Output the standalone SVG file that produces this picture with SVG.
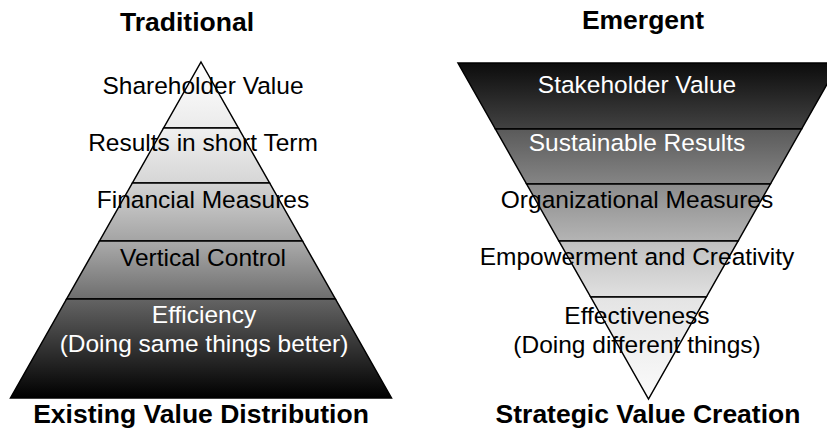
<svg xmlns="http://www.w3.org/2000/svg" width="827" height="438" viewBox="0 0 827 438">
<defs>
<linearGradient id="l1" x1="0" y1="0" x2="0" y2="1"><stop offset="0" stop-color="#ffffff"/><stop offset="1" stop-color="#ebebeb"/></linearGradient>
<linearGradient id="l2" x1="0" y1="0" x2="0" y2="1"><stop offset="0" stop-color="#f0f0f0"/><stop offset="1" stop-color="#d6d6d6"/></linearGradient>
<linearGradient id="l3" x1="0" y1="0" x2="0" y2="1"><stop offset="0" stop-color="#d4d4d4"/><stop offset="1" stop-color="#a4a4a4"/></linearGradient>
<linearGradient id="l4" x1="0" y1="0" x2="0" y2="1"><stop offset="0" stop-color="#ababab"/><stop offset="1" stop-color="#6e6e6e"/></linearGradient>
<linearGradient id="l5" x1="0" y1="0" x2="0" y2="1"><stop offset="0" stop-color="#646464"/><stop offset="1" stop-color="#000000"/></linearGradient>
<linearGradient id="r1" x1="0" y1="0" x2="0" y2="1"><stop offset="0" stop-color="#0c0c0c"/><stop offset="1" stop-color="#424242"/></linearGradient>
<linearGradient id="r2" x1="0" y1="0" x2="0" y2="1"><stop offset="0" stop-color="#5a5a5a"/><stop offset="1" stop-color="#858585"/></linearGradient>
<linearGradient id="r3" x1="0" y1="0" x2="0" y2="1"><stop offset="0" stop-color="#8c8c8c"/><stop offset="1" stop-color="#b4b4b4"/></linearGradient>
<linearGradient id="r4" x1="0" y1="0" x2="0" y2="1"><stop offset="0" stop-color="#c0c0c0"/><stop offset="1" stop-color="#e0e0e0"/></linearGradient>
<linearGradient id="r5" x1="0" y1="0" x2="0" y2="1"><stop offset="0" stop-color="#e4e4e4"/><stop offset="1" stop-color="#fbfbfb"/></linearGradient>
</defs>
<style>
.band{stroke:#000;stroke-width:1.5;stroke-linejoin:miter}
.t{font-family:"Liberation Sans",Arial,sans-serif;font-size:24.5px;text-anchor:middle;fill:#000}
.w{fill:#fff}
.h{font-family:"Liberation Sans",Arial,sans-serif;font-size:26.5px;font-weight:bold;text-anchor:middle;fill:#000}
</style>
<rect width="827" height="438" fill="#fff"/>
<g id="traditional">
<g id="t-band1"><polygon class="band" fill="url(#l1)" points="201,62 238.4,128 163.6,128"/><text class="t" x="203" y="94">Shareholder Value</text></g>
<g id="t-band2"><polygon class="band" fill="url(#l2)" points="163.6,128 238.4,128 269.6,183 132.4,183"/><text class="t" x="203" y="151">Results in short Term</text></g>
<g id="t-band3"><polygon class="band" fill="url(#l3)" points="132.4,183 269.6,183 302.5,241 99.5,241"/><text class="t" x="203" y="208">Financial Measures</text></g>
<g id="t-band4"><polygon class="band" fill="url(#l4)" points="99.5,241 302.5,241 335.4,299 66.6,299"/><text class="t" x="203" y="266">Vertical Control</text></g>
<g id="t-band5"><polygon class="band" fill="url(#l5)" points="66.6,299 335.4,299 391.5,398 10.5,398"/><text class="t w" x="204" y="323">Efficiency</text><text class="t w" x="204" y="352">(Doing same things better)</text></g>
<g id="t-title"><text class="h" x="187" y="31">Traditional</text></g>
<g id="t-caption"><text class="h" x="201" y="423">Existing Value Distribution</text></g>
</g>
<g id="emergent">
<g id="e-band1"><polygon class="band" fill="url(#r1)" points="458,63 839,63 801.6,129 495.4,129"/><text class="t w" x="637" y="93">Stakeholder Value</text></g>
<g id="e-band2"><polygon class="band" fill="url(#r2)" points="495.4,129 801.6,129 770.4,184 526.6,184"/><text class="t w" x="637" y="151">Sustainable Results</text></g>
<g id="e-band3"><polygon class="band" fill="url(#r3)" points="526.6,184 770.4,184 738.1,241 558.9,241"/><text class="t" x="637" y="208">Organizational Measures</text></g>
<g id="e-band4"><polygon class="band" fill="url(#r4)" points="558.9,241 738.1,241 706.3,297 590.7,297"/><text class="t" x="637" y="265">Empowerment and Creativity</text></g>
<g id="e-band5"><polygon class="band" fill="url(#r5)" points="590.7,297 706.3,297 648.5,399"/><text class="t" x="637" y="324">Effectiveness</text><text class="t" x="637" y="353">(Doing different things)</text></g>
<g id="e-title"><text class="h" x="643" y="29">Emergent</text></g>
<g id="e-caption"><text class="h" x="648" y="423">Strategic Value Creation</text></g>
</g>
<g id="connectors"></g>
</svg>
